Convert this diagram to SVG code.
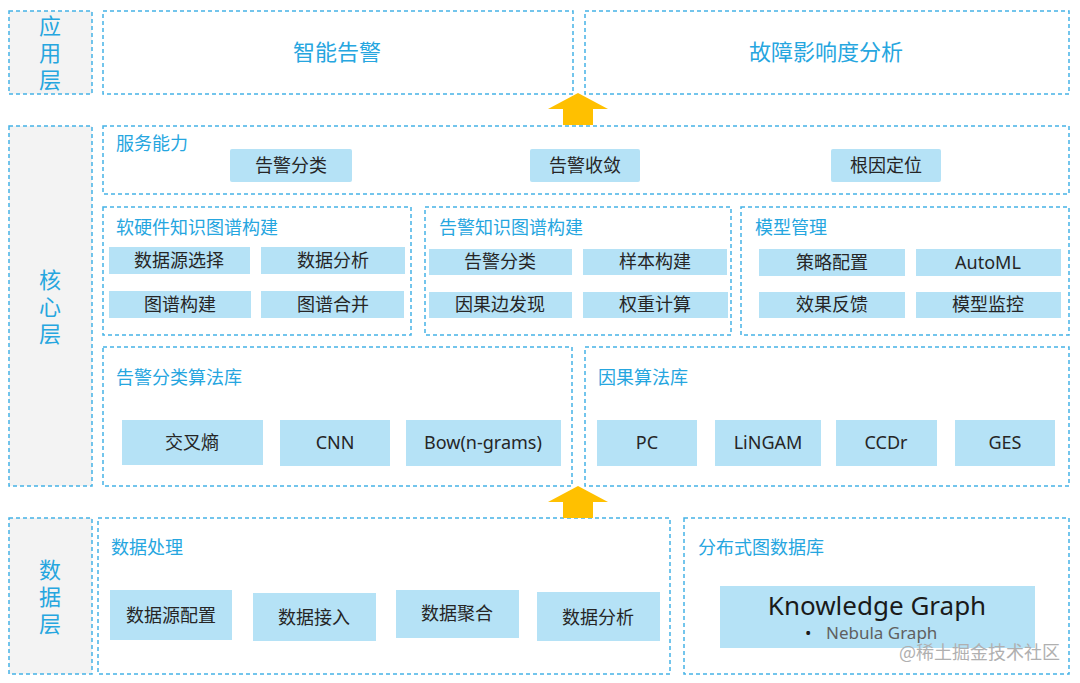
<svg xmlns="http://www.w3.org/2000/svg" width="1080" height="683" viewBox="0 0 1080 683">
<style>
.box{fill:#fff;stroke:#45b3e6;stroke-width:1.5;stroke-dasharray:4 3}
.lbl{fill:#f3f3f3;stroke:#45b3e6;stroke-width:1.5;stroke-dasharray:4 3}
.btn{fill:#b5e2f6}
.t{font-family:"Noto Sans CJK SC","Noto Sans",sans-serif;fill:#26a6df;font-size:18px}
.big{font-size:22px;text-anchor:middle}
.vert{writing-mode:vertical-rl;letter-spacing:5px}
.bt{font-family:"Noto Sans","Noto Sans CJK SC",sans-serif;fill:#262626;font-size:18px;text-anchor:middle}
.arr{fill:#ffc000}
</style>
<rect width="1080" height="683" fill="#fff"/>
<g id="app-layer">
<rect class="lbl" x="9" y="11" width="83" height="83"/>
<text class="t big vert" x="50" y="55">应用层</text>
</g>
<g id="smart-alarm"><rect class="box" x="103" y="11" width="470" height="83"/><text class="t big" x="337" y="60">智能告警</text></g>
<g id="fault-impact"><rect class="box" x="585" y="11" width="484" height="83"/><text class="t big" x="826" y="60">故障影响度分析</text></g>

<g id="core-layer">
<rect class="lbl" x="9" y="126" width="83" height="360"/>
<text class="t big vert" x="50" y="309">核心层</text>
</g>
<g id="service">
<rect class="box" x="103" y="126" width="966" height="68"/>
<text class="t" x="116" y="150">服务能力</text>
<rect class="btn" x="230" y="149" width="122" height="33" rx="2"/><text class="bt" x="291" y="172">告警分类</text>
<rect class="btn" x="530" y="149" width="110" height="33" rx="2"/><text class="bt" x="585" y="172">告警收敛</text>
<rect class="btn" x="831" y="149" width="110" height="33" rx="2"/><text class="bt" x="886" y="172">根因定位</text>
</g>
<g id="sw-hw-kg">
<rect class="box" x="103" y="207" width="308" height="128"/>
<text class="t" x="116" y="234">软硬件知识图谱构建</text>
<rect class="btn" x="109" y="247" width="141" height="27"/><text class="bt" x="179" y="267">数据源选择</text>
<rect class="btn" x="261" y="247" width="144" height="27"/><text class="bt" x="333" y="267">数据分析</text>
<rect class="btn" x="109" y="291" width="142" height="27"/><text class="bt" x="180" y="311">图谱构建</text>
<rect class="btn" x="261" y="291" width="143" height="27"/><text class="bt" x="333" y="311">图谱合并</text>
</g>
<g id="alarm-kg">
<rect class="box" x="425" y="207" width="306" height="128"/>
<text class="t" x="439" y="234">告警知识图谱构建</text>
<rect class="btn" x="429" y="249" width="143" height="26"/><text class="bt" x="500" y="268">告警分类</text>
<rect class="btn" x="583" y="249" width="144" height="26"/><text class="bt" x="655" y="268">样本构建</text>
<rect class="btn" x="429" y="292" width="143" height="26"/><text class="bt" x="500" y="311">因果边发现</text>
<rect class="btn" x="583" y="292" width="145" height="26"/><text class="bt" x="655" y="311">权重计算</text>
</g>
<g id="model-mgmt">
<rect class="box" x="741" y="207" width="328" height="128"/>
<text class="t" x="755" y="234">模型管理</text>
<rect class="btn" x="759" y="249" width="146" height="27"/><text class="bt" x="832" y="269">策略配置</text>
<rect class="btn" x="916" y="249" width="145" height="27"/><text class="bt" x="988" y="269">AutoML</text>
<rect class="btn" x="759" y="292" width="146" height="26"/><text class="bt" x="832" y="311">效果反馈</text>
<rect class="btn" x="916" y="292" width="145" height="26"/><text class="bt" x="988" y="311">模型监控</text>
</g>
<g id="alarm-algo">
<rect class="box" x="103" y="347" width="469" height="139"/>
<text class="t" x="116" y="384">告警分类算法库</text>
<rect class="btn" x="122" y="420" width="141" height="45"/><text class="bt" x="192" y="449">交叉熵</text>
<rect class="btn" x="280" y="420" width="110" height="46"/><text class="bt" x="335" y="449">CNN</text>
<rect class="btn" x="406" y="420" width="155" height="46"/><text class="bt" x="483" y="449">Bow(n-grams)</text>
</g>
<g id="causal-algo">
<rect class="box" x="585" y="347" width="484" height="139"/>
<text class="t" x="598" y="384">因果算法库</text>
<rect class="btn" x="597" y="420" width="100" height="46"/><text class="bt" x="647" y="449">PC</text>
<rect class="btn" x="715" y="420" width="106" height="46"/><text class="bt" x="768" y="449">LiNGAM</text>
<rect class="btn" x="836" y="420" width="101" height="46"/><text class="bt" x="886" y="449">CCDr</text>
<rect class="btn" x="955" y="420" width="100" height="46"/><text class="bt" x="1005" y="449">GES</text>
</g>

<g id="data-layer">
<rect class="lbl" x="9" y="518" width="83" height="156"/>
<text class="t big vert" x="50" y="599">数据层</text>
</g>
<g id="data-proc">
<rect class="box" x="98" y="518" width="572" height="156"/>
<text class="t" x="111" y="554">数据处理</text>
<rect class="btn" x="110" y="590" width="122" height="50"/><text class="bt" x="171" y="622">数据源配置</text>
<rect class="btn" x="253" y="593" width="123" height="48"/><text class="bt" x="314" y="624">数据接入</text>
<rect class="btn" x="396" y="590" width="123" height="48"/><text class="bt" x="457" y="620">数据聚合</text>
<rect class="btn" x="537" y="592" width="123" height="49"/><text class="bt" x="598" y="624">数据分析</text>
</g>
<g id="graph-db">
<rect class="box" x="684" y="518" width="385" height="156"/>
<text class="t" x="698" y="554">分布式图数据库</text>
<rect class="btn" x="720" y="586" width="315" height="62"/>
<text x="877" y="615" style="font-family:'Noto Sans','Open Sans',sans-serif;font-size:26px;fill:#1a1a1a;text-anchor:middle">Knowledge Graph</text>
<text x="805" y="639" style="font-family:'Noto Sans','Open Sans',sans-serif;font-size:17px;fill:#1a1a1a">•</text>
<text x="826" y="639" style="font-family:'Noto Sans','Open Sans',sans-serif;font-size:17px;fill:#606060">Nebula Graph</text>
</g>
<g id="connectors">
<polygon class="arr" points="578,93 608,109 593,109 593,125 563,125 563,109 548,109"/>
<polygon class="arr" points="578,486 608,502 593,502 593,518 563,518 563,502 548,502"/>
</g>
<text x="1060" y="659" style="font-family:'Noto Sans CJK SC',sans-serif;font-size:18px;fill:#b0b0b0;text-anchor:end">@稀土掘金技术社区</text>
</svg>
